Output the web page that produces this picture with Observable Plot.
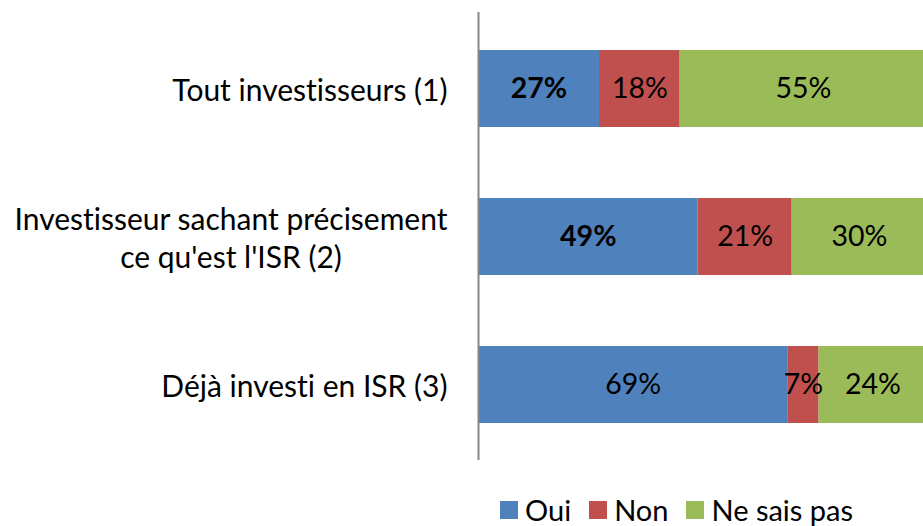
<!DOCTYPE html>
<html>
<head>
<meta charset="utf-8">
<script src="https://cdn.jsdelivr.net/npm/d3@7"></script>
<script src="https://cdn.jsdelivr.net/npm/@observablehq/plot@0.6"></script>
<style>
  html, body { margin: 0; padding: 0; background: #fff; overflow: hidden; }
  #chart { width: 923px; }
  svg text { font-variant-ligatures: none; }
  .legend { box-sizing: border-box; display: flex; align-items: center; height: 36px; padding-top: 4px; padding-left: 500px; font-family: Lato, sans-serif; font-size: 29px; line-height: 30px; color: #000; font-variant-ligatures: none; }
  .legend .item { display: flex; align-items: center; margin-right: 18px; }
  .legend .sw { width: 18px; height: 18px; margin-right: 7px; }
</style>
</head>
<body>
<div id="chart"></div>
<script>
const categories = [
  "Tout investisseurs (1)",
  "Investisseur sachant précisement\nce qu'est l'ISR (2)",
  "Déjà investi en ISR (3)"
];
const seriesKeys = ["Oui", "Non", "Ne sais pas"];
const oui = [27, 49, 69];
const non = [18, 21, 7];
const neSaisPas = [55, 30, 24];
const colors = ["#4F81BD", "#C0504D", "#9BBB59"];

const series = [oui, non, neSaisPas];
const data = categories.flatMap((cat, i) =>
  seriesKeys.map((key, k) => ({cat, key, value: series[k][i]}))
);
const isBold = d => d.key === "Oui" && d.cat !== categories[2];
const FONT = "Lato, sans-serif";

const chart = Plot.plot({
  width: 923,
  height: 490,
  marginLeft: 478,
  marginRight: 0,
  marginTop: 12,
  marginBottom: 30,
  style: {fontFamily: FONT, background: "#fff"},
  x: {domain: [0, 99.3], axis: null},
  y: {domain: categories, paddingInner: 0.48, paddingOuter: 0.2435, label: null},
  color: {domain: seriesKeys, range: colors},
  marks: [
    Plot.barX(data, Plot.stackX({x: "value", y: "cat", fill: "key", z: "key", clip: true})),
    Plot.text(data, Plot.stackX({
      x: "value", y: "cat", z: "key", text: d => isBold(d) ? "" : d.value + "%",
      fill: "#000", fontSize: 28.5, fontFamily: FONT
    })),
    Plot.text(data, Plot.stackX({
      x: "value", y: "cat", z: "key", text: d => isBold(d) ? d.value + "%" : "",
      fill: "#000", fontSize: 28.5, fontWeight: "bold", fontFamily: FONT
    })),
    Plot.ruleX([0], {stroke: "#868686", strokeWidth: 2}),
    Plot.axisY({tickSize: 0, tickPadding: 31, fontSize: 30, lineHeight: 1.25, fontFamily: FONT, fill: "#000", label: null})
  ]
});
document.getElementById("chart").appendChild(chart);

// center the lines of multi-line tick labels within their block (block stays right-aligned)
chart.querySelectorAll("[aria-label='y-axis tick label'] text").forEach(t => {
  const spans = t.querySelectorAll("tspan");
  if (spans.length > 1) {
    let w = 0;
    spans.forEach(s => { w = Math.max(w, s.getComputedTextLength()); });
    t.setAttribute("text-anchor", "middle");
    spans.forEach(s => s.setAttribute("x", -w / 2));
  }
});

const legend = document.createElement("div");
legend.className = "legend";
seriesKeys.forEach((k, i) => {
  const item = document.createElement("div");
  item.className = "item";
  const sw = document.createElement("span");
  sw.className = "sw";
  sw.style.background = colors[i];
  const lab = document.createElement("span");
  lab.textContent = k;
  item.appendChild(sw); item.appendChild(lab);
  legend.appendChild(item);
});
document.getElementById("chart").appendChild(legend);
</script>
</body>
</html>
